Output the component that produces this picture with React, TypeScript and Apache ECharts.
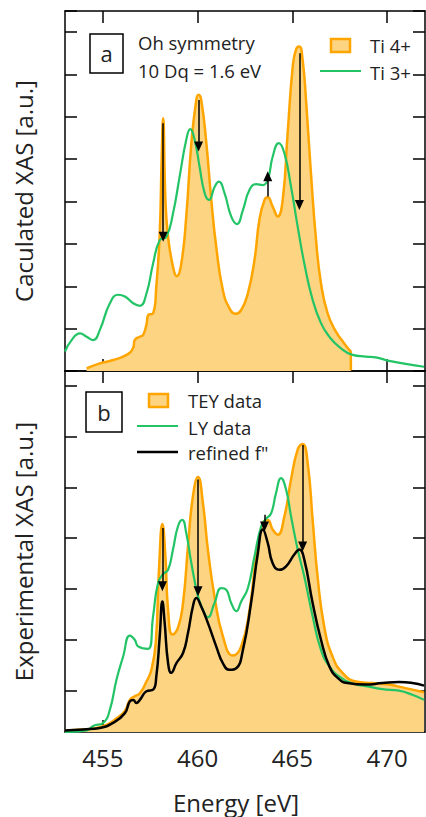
import React, { useEffect, useRef } from "react";
import * as echarts from "echarts";

// ---------- Panel (a): calculated XAS ----------
const ti4Energy = [454.14, 454.84, 455.54, 456.25, 456.6, 456.68, 456.95, 457.12, 457.3, 457.39, 457.65, 457.82, 458.0, 458.1, 458.18, 458.3, 458.44, 458.7, 458.9, 459.14, 459.4, 459.67, 459.93, 460.05, 460.19, 460.46, 460.72, 460.98, 461.33, 461.68, 462.0, 462.3, 462.65, 463.0, 463.26, 463.53, 463.7, 463.96, 464.23, 464.49, 464.75, 465.02, 465.2, 465.37, 465.54, 465.72, 465.98, 466.25, 466.51, 466.86, 467.3, 467.74, 468.0, 468.08, 468.09];
const ti4Values = [0.06, 0.18, 0.26, 0.38, 0.55, 0.73, 0.81, 0.85, 1.1, 1.32, 1.36, 2.0, 3.25, 5.0, 5.97, 4.04, 3.17, 2.46, 2.24, 2.54, 3.65, 5.38, 6.4, 6.52, 6.4, 5.38, 4.04, 2.94, 1.91, 1.48, 1.35, 1.44, 1.83, 2.62, 3.57, 4.04, 4.1, 3.88, 3.65, 4.04, 5.61, 7.19, 7.6, 7.66, 7.35, 6.4, 4.67, 3.09, 2.07, 1.36, 0.93, 0.65, 0.5, 0.45, 0.02];

const ti3Energy = [453.0, 453.35, 453.79, 454.14, 454.49, 454.84, 455.37, 455.81, 456.16, 456.6, 456.95, 457.3, 457.65, 458.0, 458.35, 458.7, 459.05, 459.4, 459.61, 459.84, 460.1, 460.37, 460.6, 460.9, 461.12, 461.42, 461.77, 462.07, 462.39, 462.74, 463.09, 463.44, 463.7, 463.96, 464.28, 464.58, 464.93, 465.28, 465.63, 466.07, 466.51, 466.95, 467.47, 468.18, 468.88, 469.4, 470.1, 470.98, 471.95];
const ti3Values = [0.46, 0.73, 0.89, 0.81, 0.73, 0.97, 1.6, 1.8, 1.76, 1.6, 1.54, 1.83, 2.54, 3.09, 3.17, 3.72, 4.59, 5.46, 5.71, 5.46, 4.83, 4.2, 4.04, 4.35, 4.47, 4.2, 3.65, 3.47, 3.8, 4.28, 4.41, 4.39, 4.51, 5.06, 5.38, 5.14, 4.35, 3.41, 2.54, 1.68, 1.13, 0.81, 0.57, 0.38, 0.34, 0.32, 0.24, 0.17, 0.1];

// arrows: [energy, from, to]
const arrowsA = [
  [458.18, 5.85, 3.17],
  [460.05, 6.4, 5.3],
  [463.7, 4.12, 4.6],
  [465.37, 7.5, 3.92],
];

// ---------- Panel (b): experimental XAS ----------
const teyEnergy = [453.0, 453.96, 454.67, 455.19, 455.72, 456.16, 456.42, 456.68, 456.95, 457.3, 457.56, 457.79, 457.96, 458.14, 458.3, 458.44, 458.67, 458.96, 459.23, 459.49, 459.75, 460.02, 460.28, 460.54, 460.89, 461.33, 461.86, 462.3, 462.74, 463.09, 463.44, 463.7, 463.96, 464.23, 464.58, 464.93, 465.28, 465.54, 465.81, 466.07, 466.33, 466.68, 467.12, 467.65, 468.35, 469.23, 470.1, 470.98, 471.95];
const teyValues = [0.03, 0.05, 0.08, 0.14, 0.27, 0.41, 0.63, 0.7, 0.76, 0.99, 1.22, 1.75, 3.18, 4.08, 3.44, 2.4, 1.91, 2.04, 2.53, 3.64, 4.62, 5.0, 4.49, 3.58, 2.66, 1.88, 1.5, 1.68, 2.4, 3.44, 4.1, 4.16, 3.97, 3.87, 4.23, 4.95, 5.54, 5.65, 5.27, 4.16, 3.05, 2.07, 1.48, 1.16, 0.99, 0.96, 0.93, 0.86, 0.78];

const lyEnergy = [453.0, 454.14, 454.49, 455.02, 455.37, 455.72, 456.07, 456.42, 456.68, 456.86, 457.39, 457.65, 457.91, 458.18, 458.44, 458.7, 458.96, 459.19, 459.4, 459.67, 460.02, 460.28, 460.54, 460.89, 461.25, 461.51, 461.77, 462.04, 462.3, 462.65, 463.0, 463.35, 463.61, 463.88, 464.14, 464.4, 464.67, 464.93, 465.28, 465.63, 466.07, 466.51, 466.95, 467.47, 468.18, 468.88, 469.75, 470.63, 471.33, 471.95];
const lyValues = [0.0, 0.03, 0.12, 0.18, 0.44, 1.03, 1.48, 1.89, 1.81, 1.68, 1.63, 2.27, 2.92, 3.1, 3.18, 3.58, 4.03, 4.16, 3.9, 3.31, 2.66, 2.4, 2.25, 2.53, 2.82, 2.79, 2.53, 2.37, 2.56, 2.82, 3.44, 4.03, 4.18, 4.29, 4.69, 4.98, 4.75, 4.23, 3.58, 3.05, 2.27, 1.61, 1.29, 1.09, 0.95, 0.9, 0.84, 0.81, 0.73, 0.63];

const refEnergy = [453.0, 453.96, 454.84, 455.54, 456.16, 456.42, 456.6, 456.77, 456.95, 457.3, 457.65, 457.82, 458.0, 458.14, 458.26, 458.44, 458.61, 458.88, 459.23, 459.49, 459.75, 459.93, 460.19, 460.54, 460.98, 461.33, 461.68, 462.04, 462.39, 462.82, 463.18, 463.44, 463.7, 463.96, 464.32, 464.67, 465.1, 465.37, 465.63, 466.07, 466.51, 466.95, 467.39, 467.91, 468.88, 469.75, 470.63, 471.33, 471.95];
const refValues = [0.03, 0.05, 0.08, 0.18, 0.37, 0.6, 0.63, 0.57, 0.63, 0.8, 0.83, 1.09, 1.88, 2.56, 2.14, 1.35, 1.16, 1.35, 1.55, 1.94, 2.46, 2.63, 2.46, 2.14, 1.68, 1.35, 1.22, 1.25, 1.61, 2.53, 3.51, 3.97, 3.71, 3.31, 3.18, 3.25, 3.48, 3.58, 3.38, 2.53, 1.81, 1.29, 1.06, 0.96, 0.93, 0.96, 0.98, 0.96, 0.91];

const arrowsB = [
  [458.14, 4.0, 2.86],
  [460.02, 4.95, 2.76],
  [463.53, 4.26, 4.03],
  [465.54, 5.63, 3.64],
];

const energyTicks = [455, 460, 465, 470];
const expTicks = [0.8, 1.8, 2.8, 3.8, 4.8, 5.8, 6.8];

const FONT = "'Open Sans', 'Noto Sans', sans-serif";
const ORANGE = "#FFA500";
const FILL = "#FDD482";
const GREEN = "#22C466";
const SMOOTH = 0.5;
const TXT = "#222";

const zip = (xs: number[], ys: number[]) => xs.map((x, i) => [x, ys[i]]);

const arrowLines = (arr: number[][]) =>
  arr.map(([x, a, b]) => [
    { coord: [x, a], symbol: "none" },
    { coord: [x, b], symbol: "triangle" },
  ]);

const label = (text: string, x: number, y: number, size = 18.5, align = "left") => ({
  type: "text",
  x,
  y,
  z: 11,
  style: { text, fontFamily: FONT, fontSize: size, fill: TXT, align, verticalAlign: "middle" },
});

export default function App() {
  const ref = useRef<HTMLDivElement>(null);
  useEffect(() => {
    if (!ref.current) return;
    const chart = echarts.init(ref.current, null, { renderer: "svg" });
    const tick = { show: true, inside: true, length: 12, lineStyle: { color: "#000", width: 1.5 } };
    const line = { show: true, onZero: false, lineStyle: { color: "#000", width: 1.5 } };
    const xBase = (grid: number, position: string, labels: boolean) => ({
      type: "value",
      gridIndex: grid,
      position,
      min: 453,
      max: 472,
      axisLine: line,
      axisTick: { ...tick, customValues: energyTicks },
      axisLabel: labels
        ? { show: true, customValues: energyTicks, fontFamily: FONT, fontSize: 24, color: TXT, margin: 13 }
        : { show: false },
      splitLine: { show: false },
    });
    const markLine = (arr: number[][]) => ({
      silent: true,
      animation: false,
      symbolSize: [9, 10],
      label: { show: false },
      lineStyle: { color: "#000", width: 1.5, type: "solid" },
      data: arrowLines(arr),
    });
    chart.setOption({
      animation: false,
      backgroundColor: "#fff",
      grid: [
        { left: 65, top: 11, width: 360, height: 360 },
        { left: 65, top: 371, width: 360, height: 361 },
      ],
      xAxis: [
        xBase(0, "bottom", false),
        xBase(0, "top", false),
        xBase(1, "bottom", true),
        xBase(1, "top", false),
      ],
      yAxis: [
        {
          type: "value", gridIndex: 0, position: "left", min: 0, max: 8.5, interval: 1,
          axisLine: line, axisTick: tick, axisLabel: { show: false }, splitLine: { show: false },
          name: "Caculated XAS [a.u.]", nameLocation: "middle", nameGap: 30,
          nameTextStyle: { fontFamily: FONT, fontSize: 24, color: TXT },
        },
        {
          type: "value", gridIndex: 0, position: "right", min: 0, max: 8.5, interval: 1,
          axisLine: line, axisTick: tick, axisLabel: { show: false }, splitLine: { show: false },
        },
        {
          type: "value", gridIndex: 1, position: "left", min: 0, max: 7.08,
          axisLine: line, axisTick: { ...tick, customValues: expTicks }, axisLabel: { show: false }, splitLine: { show: false },
          name: "Experimental XAS [a.u.]", nameLocation: "middle", nameGap: 30,
          nameTextStyle: { fontFamily: FONT, fontSize: 24, color: TXT },
        },
        {
          type: "value", gridIndex: 1, position: "right", min: 0, max: 7.08,
          axisLine: line, axisTick: { ...tick, customValues: expTicks }, axisLabel: { show: false }, splitLine: { show: false },
        },
      ],
      series: [
        {
          name: "Ti 4+", type: "line", xAxisIndex: 0, yAxisIndex: 0,
          data: zip(ti4Energy, ti4Values), showSymbol: false, smooth: SMOOTH,
          lineStyle: { color: ORANGE, width: 2.5 }, areaStyle: { color: FILL, opacity: 1 },
          markLine: markLine(arrowsA), z: 2,
        },
        {
          name: "Ti 3+", type: "line", xAxisIndex: 0, yAxisIndex: 0,
          data: zip(ti3Energy, ti3Values), showSymbol: false, smooth: SMOOTH,
          lineStyle: { color: GREEN, width: 2.2 }, z: 3,
        },
        {
          name: "TEY data", type: "line", xAxisIndex: 2, yAxisIndex: 2,
          data: zip(teyEnergy, teyValues), showSymbol: false, smooth: SMOOTH,
          lineStyle: { color: ORANGE, width: 2.5 }, areaStyle: { color: FILL, opacity: 1 }, z: 2,
        },
        {
          name: "LY data", type: "line", xAxisIndex: 2, yAxisIndex: 2,
          data: zip(lyEnergy, lyValues), showSymbol: false, smooth: SMOOTH,
          lineStyle: { color: GREEN, width: 2.2 }, z: 3,
        },
        {
          name: "refined f\"", type: "line", xAxisIndex: 2, yAxisIndex: 2,
          data: zip(refEnergy, refValues), showSymbol: false, smooth: SMOOTH,
          lineStyle: { color: "#000", width: 2.5 }, markLine: markLine(arrowsB), z: 4,
        },
      ],
      graphic: [
        // panel a
        { type: "rect", shape: { x: 90, y: 34, width: 33, height: 39 }, style: { fill: "#fff", stroke: "#000", lineWidth: 1.5 }, z: 10 },
        label("a", 106.5, 53, 22, "center"),
        label("Oh symmetry", 138, 42),
        label("10 Dq = 1.6 eV", 138, 70),
        { type: "rect", shape: { x: 331, y: 39, width: 19, height: 13 }, style: { fill: FILL, stroke: ORANGE, lineWidth: 2.5 }, z: 10 },
        label("Ti 4+", 370, 45),
        { type: "line", shape: { x1: 320, y1: 71, x2: 361, y2: 71 }, style: { stroke: GREEN, lineWidth: 2.2 }, z: 10 },
        label("Ti 3+", 370, 72),
        // panel b
        { type: "rect", shape: { x: 86, y: 392, width: 36, height: 40 }, style: { fill: "#fff", stroke: "#000", lineWidth: 1.5 }, z: 10 },
        label("b", 104, 412, 22, "center"),
        { type: "rect", shape: { x: 149, y: 394, width: 19, height: 13 }, style: { fill: FILL, stroke: ORANGE, lineWidth: 2.5 }, z: 10 },
        label("TEY data", 188, 400),
        { type: "line", shape: { x1: 137, y1: 426, x2: 178, y2: 426 }, style: { stroke: GREEN, lineWidth: 2.2 }, z: 10 },
        label("LY data", 188, 427),
        { type: "line", shape: { x1: 137, y1: 452, x2: 178, y2: 452 }, style: { stroke: "#000", lineWidth: 2.5 }, z: 10 },
        label("refined f\"", 188, 452),
        // x-axis title
        label("Energy [eV]", 236, 802, 24, "center"),
      ],
    });
    return () => chart.dispose();
  }, []);
  return (
    <div
      ref={ref}
      style={{ position: "fixed", left: 0, top: 0, width: 426, height: 817, background: "#fff" }}
    />
  );
}
